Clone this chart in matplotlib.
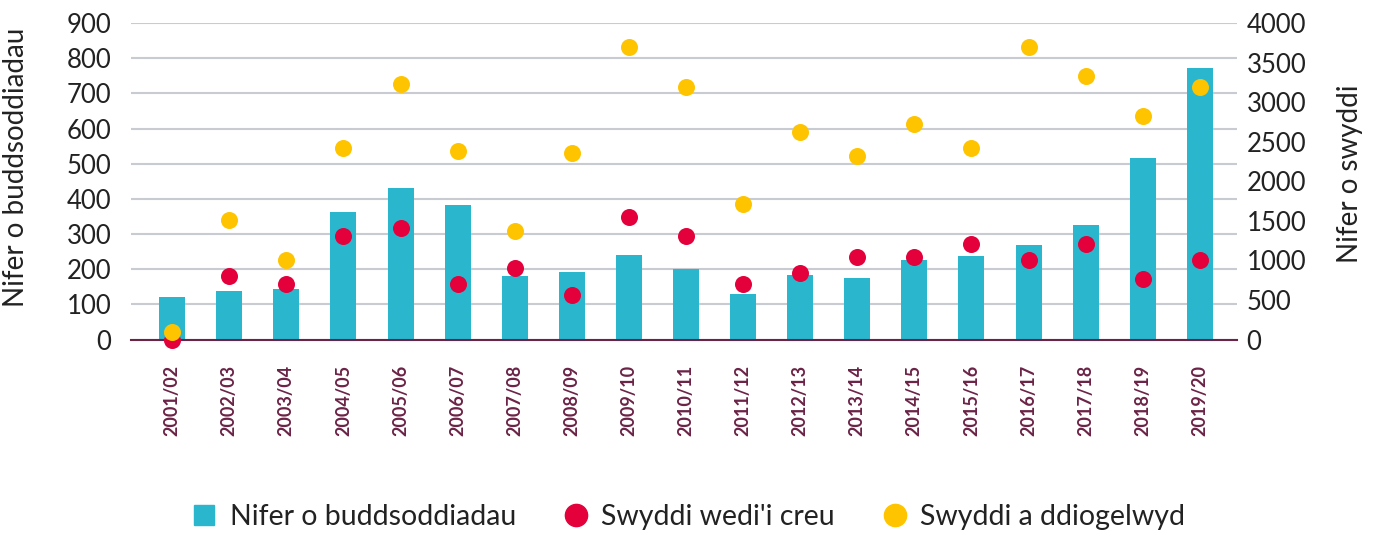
import numpy as np
import matplotlib
matplotlib.use('Agg')
import matplotlib.pyplot as plt
from matplotlib.lines import Line2D

plt.rcParams['font.family'] = ['Lato', 'DejaVu Sans']

years = ['2001/02', '2002/03', '2003/04', '2004/05', '2005/06', '2006/07', '2007/08',
         '2008/09', '2009/10', '2010/11', '2011/12', '2012/13', '2013/14', '2014/15',
         '2015/16', '2016/17', '2017/18', '2018/19', '2019/20']
investments = [121, 138, 144, 362, 431, 383, 180, 191, 241, 201, 130, 184, 176,
               227, 238, 269, 326, 517, 773]
jobs_created = [0, 804, 703, 1310, 1411, 703, 906, 568, 1546, 1310, 703, 846, 1041,
                1041, 1209, 1007, 1209, 770, 1007]
jobs_safeguarded = [101, 1512, 1007, 2421, 3229, 2387, 1377, 2354, 3700, 3195, 1714,
                    2623, 2320, 2724, 2421, 3700, 3330, 2825, 3195]

c_bar = '#2AB7CE'
c_red = '#E4003B'
c_yel = '#FFC400'
c_axis = '#6B2346'
c_grid = '#C8CCD2'
c_text = '#222222'

fig = plt.figure(figsize=(13.75, 5.34), dpi=100)
ax = fig.add_axes([0.0953, 0.364, 0.8043, 0.593])
ax2 = ax.twinx()

x = np.arange(len(years))
ax.bar(x, investments, width=0.455, color=c_bar, zorder=2)
ax2.scatter(x, jobs_created, s=150, color=c_red, zorder=3, clip_on=False, linewidths=0)
ax2.scatter(x, jobs_safeguarded, s=150, color=c_yel, zorder=4, clip_on=False, linewidths=0)

ax.set_ylim(0, 900)
ax.set_yticks(range(0, 901, 100))
ax2.set_ylim(0, 4000)
ax2.set_yticks(range(0, 4001, 500))
ax.set_xlim(-0.72, 18.65)

ax.yaxis.grid(True, color=c_grid, linewidth=1.5, zorder=0)
ax.set_axisbelow(True)

for a in (ax, ax2):
    for s in a.spines.values():
        s.set_visible(False)
    a.tick_params(length=0)
ax.spines['bottom'].set_visible(True)
ax.spines['bottom'].set_color(c_axis)
ax.spines['bottom'].set_linewidth(1.5)

ax.set_xticks(x)
ax.set_xticklabels(years, rotation=90, fontsize=13, fontweight='bold', color=c_axis)
ax.tick_params(axis='x', pad=18)
ax.tick_params(axis='y', labelsize=18.5, colors=c_text, pad=14)
ax2.tick_params(axis='y', labelsize=18.5, colors=c_text, pad=7)

ax.set_ylabel('Nifer o buddsoddiadau', fontsize=20, color=c_text)
ax.yaxis.set_label_coords(-0.092, 0.545)
ax2.set_ylabel('Nifer o swyddi', fontsize=20, color=c_text)
ax2.yaxis.set_label_coords(1.0904, 0.525)

handles = [
    Line2D([], [], marker='s', linestyle='none', markersize=15, color=c_bar),
    Line2D([], [], marker='o', linestyle='none', markersize=16, color=c_red),
    Line2D([], [], marker='o', linestyle='none', markersize=16, color=c_yel),
]
labels = ['Nifer o buddsoddiadau', "Swyddi wedi'i creu", 'Swyddi a ddiogelwyd']
fig.legend(handles, labels, loc='center', bbox_to_anchor=(0.5, 0.032), ncol=3,
           frameon=False, fontsize=20.5, handlelength=1.0, handletextpad=0.4,
           columnspacing=1.6, labelcolor=c_text)

fig.savefig('out.png', dpi=100)
